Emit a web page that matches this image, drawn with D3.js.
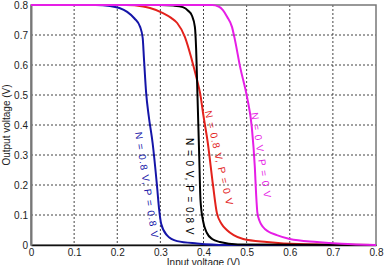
<!DOCTYPE html>
<html>
<head>
<meta charset="utf-8">
<script src="https://cdn.jsdelivr.net/npm/d3@7"></script>
<style>
  body { margin: 0; background: #fff; }
  svg text { font-family: "Liberation Sans", Arial, sans-serif; }
</style>
</head>
<body>
<svg id="chart" width="386" height="265"></svg>
<script>
// input voltage (V) vs output voltage (V)
var blueX = [0, 0.15, 0.183, 0.205, 0.223, 0.24, 0.253, 0.259, 0.262, 0.267, 0.273, 0.282, 0.292, 0.297, 0.302, 0.315, 0.339, 0.385, 0.45, 0.8];
var blueY = [0.8, 0.8, 0.797, 0.79, 0.777, 0.755, 0.727, 0.69, 0.62, 0.507, 0.43, 0.34, 0.2, 0.12, 0.07, 0.033, 0.013, 0.005, 0, 0];

var blackX = [0, 0.30, 0.33, 0.352, 0.365, 0.373, 0.38, 0.383, 0.386, 0.39, 0.393, 0.399, 0.408, 0.42, 0.438, 0.48, 0.8];
var blackY = [0.8, 0.8, 0.798, 0.793, 0.78, 0.765, 0.727, 0.65, 0.5, 0.3, 0.15, 0.08, 0.04, 0.02, 0.01, 0.002, 0];

var redX = [0, 0.22, 0.26, 0.276, 0.306, 0.325, 0.339, 0.357, 0.373, 0.385, 0.392, 0.40, 0.41, 0.422, 0.431, 0.442, 0.454, 0.47, 0.492, 0.547, 0.62, 0.8];
var redY = [0.8, 0.8, 0.795, 0.79, 0.773, 0.757, 0.74, 0.693, 0.617, 0.55, 0.507, 0.43, 0.34, 0.2, 0.107, 0.07, 0.05, 0.033, 0.02, 0.01, 0.003, 0];

var magX = [0, 0.42, 0.435, 0.445, 0.455, 0.466, 0.473, 0.485, 0.501, 0.512, 0.519, 0.522, 0.525, 0.53, 0.538, 0.55, 0.57, 0.60, 0.663, 0.72, 0.8];
var magY = [0.8, 0.8, 0.795, 0.783, 0.76, 0.727, 0.683, 0.593, 0.493, 0.393, 0.26, 0.17, 0.107, 0.08, 0.06, 0.045, 0.033, 0.02, 0.01, 0.004, 0];

var curveNames = ["N = 0.8 V, P = 0.8 V", "N = 0.8 V, P = 0 V", "N = 0 V, P = 0.8 V", "N = 0 V, P = 0 V"];
var xTicks = [0, 0.1, 0.2, 0.3, 0.4, 0.5, 0.6, 0.7, 0.8];
var yTicks = [0, 0.1, 0.2, 0.3, 0.4, 0.5, 0.6, 0.7, 0.8];

var series = [
  { name: curveNames[0], xs: blueX, ys: blueY, color: "#1515a8", lx: 0.241, ly: 0.375, rot: 81 },
  { name: curveNames[1], xs: redX, ys: redY, color: "#e3221c", lx: 0.403, ly: 0.445, rot: 77 },
  { name: curveNames[2], xs: blackX, ys: blackY, color: "#000000", lx: 0.3594, ly: 0.357, rot: 90 },
  { name: curveNames[3], xs: magX, ys: magY, color: "#e61ee6", lx: 0.510, ly: 0.44, rot: 81 }
];

var svg = d3.select("#chart"),
    margin = { left: 31, right: 10, top: 5, bottom: 20 },
    width = 386 - margin.left - margin.right,
    height = 265 - margin.top - margin.bottom;

var x = d3.scaleLinear().domain([0, 0.8]).range([0, width]);
var y = d3.scaleLinear().domain([0, 0.8]).range([height, 0]);

var g = svg.append("g").attr("transform", "translate(" + margin.left + "," + margin.top + ")");

// dotted grid
g.selectAll(".vgrid").data(xTicks.slice(1, -1)).enter().append("line")
  .attr("x1", d => x(d)).attr("x2", d => x(d))
  .attr("y1", 0).attr("y2", height)
  .attr("stroke", "#444").attr("stroke-width", 1).attr("stroke-dasharray", "2,2");
g.selectAll(".hgrid").data(yTicks.slice(1, -1)).enter().append("line")
  .attr("x1", 0).attr("x2", width)
  .attr("y1", d => y(d)).attr("y2", d => y(d))
  .attr("stroke", "#444").attr("stroke-width", 1).attr("stroke-dasharray", "2,2");

// box
g.append("rect").attr("width", width).attr("height", height)
  .attr("fill", "none").attr("stroke", "#777").attr("stroke-width", 1.5);

var xAxis = g.append("g").attr("transform", "translate(0," + height + ")")
  .call(d3.axisBottom(x).tickValues(xTicks).tickSize(0).tickPadding(4).tickFormat(d3.format("")));
var yAxis = g.append("g")
  .call(d3.axisLeft(y).tickValues(yTicks).tickSize(0).tickPadding(3).tickFormat(d3.format("")));
xAxis.select(".domain").attr("stroke", "#111").attr("stroke-width", 1.5);
yAxis.select(".domain").attr("stroke", "#777").attr("stroke-width", 2);
svg.selectAll(".tick text").attr("font-size", 10).attr("fill", "#222")
  .style("font-family", "Liberation Sans, Arial, sans-serif");

var line = d3.line().curve(d3.curveMonotoneX);

series.forEach(function (s) {
  var pts = s.xs.map(function (v, i) { return [x(v), y(s.ys[i])]; });
  g.append("path").attr("d", line(pts))
    .attr("fill", "none").attr("stroke", s.color).attr("stroke-width", 2);
});

series.forEach(function (s) {
  g.append("text")
    .attr("transform", "translate(" + x(s.lx) + "," + y(s.ly) + ") rotate(" + s.rot + ")")
    .attr("font-size", 10)
    .attr("fill", s.color)
    .style("letter-spacing", "1px")
    .text(s.name);
});

svg.append("text")
  .attr("x", margin.left + width / 2).attr("y", 266)
  .attr("text-anchor", "middle").attr("font-size", 10).attr("fill", "#222")
  .text("Input voltage (V)");

svg.append("text")
  .attr("transform", "translate(10," + (margin.top + height / 2) + ") rotate(-90)")
  .attr("text-anchor", "middle").attr("font-size", 10).attr("fill", "#222")
  .text("Output voltage (V)");
</script>
</body>
</html>
